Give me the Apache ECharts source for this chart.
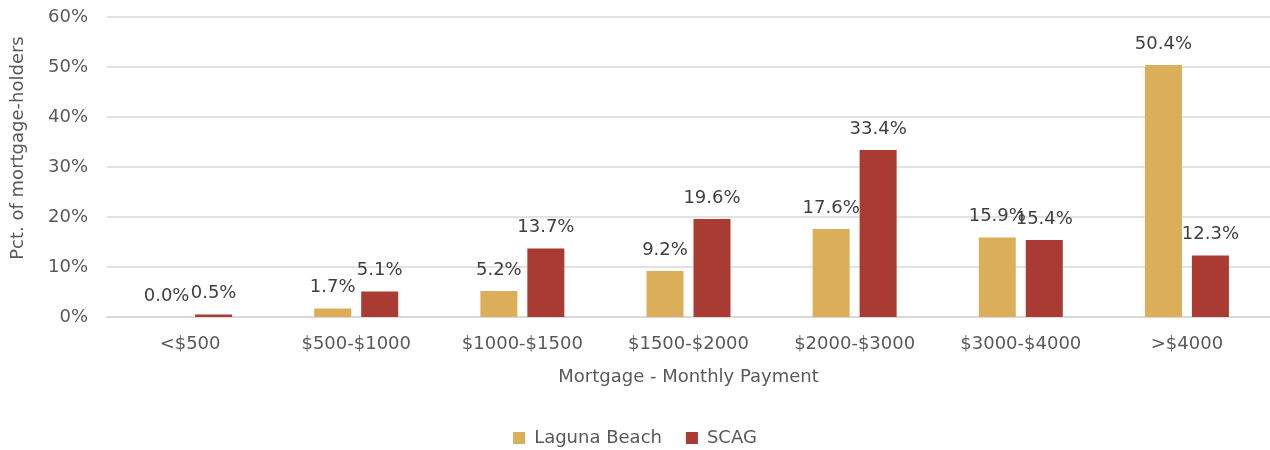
<!DOCTYPE html>
<html>
<head>
<meta charset="utf-8">
<script src="https://cdn.jsdelivr.net/npm/echarts@6/dist/echarts.min.js"></script>
<style>html,body{margin:0;padding:0;background:#fff}#c{width:1270px;height:450px}</style>
</head>
<body>
<div id="c"></div>
<script>
const categories = ['<$500', '$500-$1000', '$1000-$1500', '$1500-$2000', '$2000-$3000', '$3000-$4000', '>$4000'];
const lagunaBeach = [0.0, 1.7, 5.2, 9.2, 17.6, 15.9, 50.4];
const scag = [0.5, 5.1, 13.7, 19.6, 33.4, 15.4, 12.3];
const seriesNames = ['Laguna Beach', 'SCAG'];
const yTicks = [0, 10, 20, 30, 40, 50, 60];

const FONT = '"DejaVu Sans", Verdana, sans-serif';
const chart = echarts.init(document.getElementById('c'), null, {renderer: 'canvas'});
const labelCfg = {
  show: true, position: 'top', distance: 12,
  color: '#404040', fontSize: 18, fontFamily: FONT,
  formatter: p => p.value.toFixed(1) + '%'
};
chart.setOption({
  animation: false,
  textStyle: {fontFamily: FONT},
  grid: {left: 107, right: 0, top: 17, bottom: 133, containLabel: false},
  legend: {
    data: seriesNames, top: 424, left: 'center',
    itemWidth: 12, itemHeight: 12, itemGap: 24, icon: 'rect',
    textStyle: {color: '#595959', fontSize: 18, fontFamily: FONT, padding: [0, 0, 0, 4]}
  },
  xAxis: {
    type: 'category', data: categories,
    name: 'Mortgage - Monthly Payment', nameLocation: 'middle', nameGap: 51,
    nameTextStyle: {color: '#595959', fontSize: 18, fontFamily: FONT},
    axisLine: {show: true, lineStyle: {color: '#d9d9d9', width: 2}},
    axisTick: {show: false},
    axisLabel: {color: '#595959', fontSize: 18, fontFamily: FONT, margin: 18}
  },
  yAxis: {
    type: 'value', min: yTicks[0], max: yTicks[yTicks.length - 1], interval: 10,
    name: 'Pct. of mortgage-holders', nameLocation: 'middle', nameGap: 80,
    nameTextStyle: {color: '#595959', fontSize: 18, fontFamily: FONT, padding: [0, 0, 0, 38]},
    axisLine: {show: false}, axisTick: {show: false},
    axisLabel: {color: '#595959', fontSize: 18, fontFamily: FONT, margin: 19, padding: [5, 0, 0, 0], formatter: v => v + '%'},
    splitLine: {lineStyle: {color: '#d9d9d9', width: 1.5}}
  },
  series: [
    {name: seriesNames[0], type: 'bar', data: lagunaBeach, barWidth: 37, barGap: '27%',
     itemStyle: {color: '#DBAE59'}, label: labelCfg},
    {name: seriesNames[1], type: 'bar', data: scag, barWidth: 37, barGap: '27%',
     itemStyle: {color: '#A93B32'}, label: labelCfg}
  ]
});
</script>
</body>
</html>
